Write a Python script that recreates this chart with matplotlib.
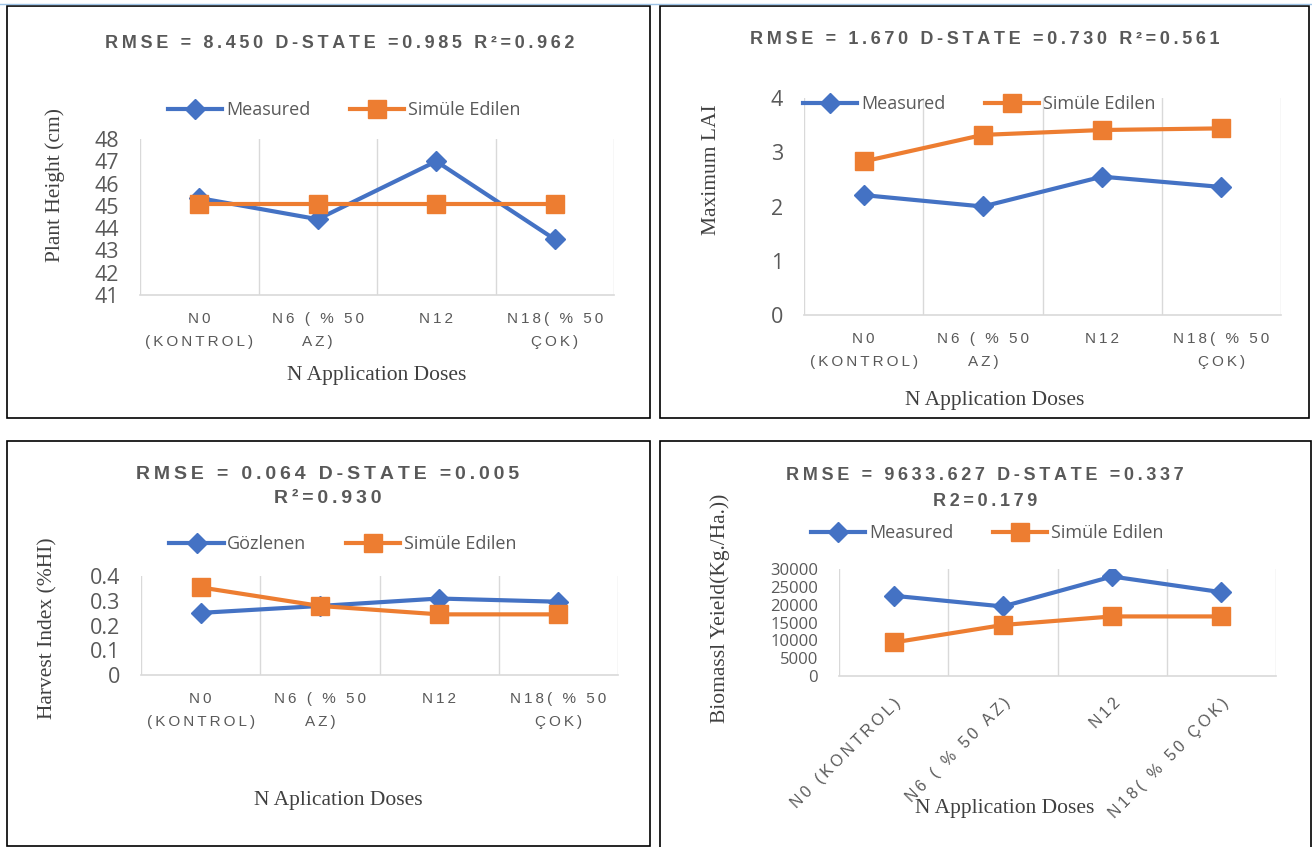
import matplotlib
matplotlib.use("Agg")
import matplotlib.pyplot as plt
from matplotlib.patches import Rectangle
from matplotlib.lines import Line2D
from matplotlib.ticker import FuncFormatter

# data
categories = ["N0\n(KONTROL)", "N6 ( % 50\nAZ)", "N12", "N18( % 50\nÇOK)"]
categories_rot = ["N0 (KONTROL)", "N6 ( % 50 AZ)", "N12", "N18( % 50 ÇOK)"]

height_measured = [45.35, 44.4, 47.0, 43.5]
height_simulated = [45.1, 45.1, 45.1, 45.1]

lai_measured = [2.21, 2.0, 2.55, 2.36]
lai_simulated = [2.83, 3.32, 3.41, 3.44]

hi_measured = [0.251, 0.279, 0.309, 0.296]
hi_simulated = [0.354, 0.279, 0.245, 0.245]

biomass_measured = [22500, 19500, 27900, 23500]
biomass_simulated = [9400, 14300, 16700, 16700]

BLUE = "#4472C4"
ORANGE = "#ED7D31"
GREY = "#595959"
GRID = "#D9D9D9"
W, H = 1312, 847
SANS = ["Liberation Sans", "DejaVu Sans"]
SERIF = ["Liberation Serif", "DejaVu Serif"]


def fx(x):
    return x / W


def fy(y):
    return 1 - y / H


def spaced(s, sep="\u2009"):
    # fake letter spacing like the Excel chart
    return "\n".join(sep.join(line) for line in s.split("\n"))


fig = plt.figure(figsize=(W / 100, H / 100), dpi=100)


def make_panel(box, x_labels, measured, simulated, names, ylim, yticks,
               title_lines, ylabel, xlabel, legend_xy, ylabel_xy, xlabel_xy,
               ytick_size=15.5, title_size=13, rotate=False):
    left, top, right, bottom = box
    ax = fig.add_axes([fx(left), fy(bottom), fx(right - left), (bottom - top) / H])
    x = list(range(len(x_labels)))
    ax.plot(x, measured, color=BLUE, lw=3, marker="D", ms=10, label=names[0], zorder=3)
    ax.plot(x, simulated, color=ORANGE, lw=3, marker="s", ms=12.5, label=names[1], zorder=3)
    ax.set_xlim(-0.5, len(x_labels) - 0.5)
    ax.set_ylim(*ylim)
    ax.set_yticks(yticks)
    ax.yaxis.set_major_formatter(FuncFormatter(lambda v, p: f"{v:g}"))
    for xv in [i - 0.5 for i in range(len(x_labels) + 1)]:
        ax.axvline(xv, color=GRID, lw=1, zorder=1)
    for side in ["left", "right", "top"]:
        ax.spines[side].set_visible(False)
    ax.spines["bottom"].set_color(GRID)
    ax.spines["bottom"].set_linewidth(1.2)
    ax.set_xticks(x)
    if rotate:
        ax.set_xticklabels([spaced(c) for c in x_labels], rotation=45, ha="right",
                           rotation_mode="anchor", family=SANS, fontsize=11.5, color=GREY)
        ax.tick_params(axis="x", length=0, pad=14)
    else:
        ax.set_xticklabels([spaced(c) for c in x_labels],
                           family=SANS, fontsize=11, color=GREY, linespacing=1.85)
        ax.tick_params(axis="x", length=0, pad=12)
    ax.tick_params(axis="y", length=0, pad=15, labelsize=ytick_size, labelcolor=GREY)
    for t in ax.get_yticklabels():
        t.set_family(["Open Sans", "DejaVu Sans"])

    for txt, (tx, ty) in title_lines:
        fig.text(fx(tx), fy(ty), spaced(txt), ha="center", va="center",
                 fontsize=title_size, fontweight="bold", color=GREY, family=SANS)

    fig.text(fx(ylabel_xy[0]), fy(ylabel_xy[1]), ylabel, rotation=90, ha="center",
             va="center", fontsize=15.5, color="#404040", family=SERIF)
    fig.text(fx(xlabel_xy[0]), fy(xlabel_xy[1]), xlabel, ha="center", va="center",
             fontsize=15.5, color="#404040", family=SERIF)

    leg = ax.legend(loc="center", bbox_to_anchor=(fx(legend_xy[0]), fy(legend_xy[1])),
                    bbox_transform=fig.transFigure, ncol=2, frameon=False,
                    handlelength=3, columnspacing=2.2, handletextpad=0.2,
                    prop={"family": ["Open Sans", "DejaVu Sans"], "size": 13})
    for t in leg.get_texts():
        t.set_color(GREY)
    return ax


make_panel((140, 139, 614, 295), categories, height_measured, height_simulated,
           ["Measured", "Simüle Edilen"], (41, 48), range(41, 49),
           [("RMSE = 8.450 D-STATE =0.985 R²=0.962", (340, 43))],
           "Plant Height (cm)", "N Application Doses",
           (344, 110), (55, 185), (377, 375))

make_panel((804, 98, 1281, 315), categories, lai_measured, lai_simulated,
           ["Measured", "Simüle Edilen"], (0, 4), range(0, 5),
           [("RMSE = 1.670 D-STATE =0.730 R²=0.561", (985, 40))],
           "Maximum LAI", "N Application Doses",
           (979, 104), (712, 170), (995, 401))

make_panel((141, 576, 618, 675), categories, hi_measured, hi_simulated,
           ["Gözlenen", "Simüle Edilen"], (0, 0.4), [0, 0.1, 0.2, 0.3, 0.4],
           [("RMSE = 0.064 D-STATE =0.005", (328, 474)), ("R²=0.930", (328, 498))],
           "Harvest Index (%HI)", "N Aplication Doses",
           (343, 544), (48, 628), (338, 800), title_size=14)

make_panel((839, 569, 1276, 676), categories_rot, biomass_measured, biomass_simulated,
           ["Measured", "Simüle Edilen"], (0, 30000), range(0, 30001, 5000),
           [("RMSE = 9633.627 D-STATE =0.337", (985, 475)), ("R2=0.179", (985, 501))],
           "Biomassl Yeield(Kg./Ha.))", "N Application Doses",
           (987, 533), (720, 608), (1005, 808), ytick_size=12, rotate=True)

# panel frames
for (l, t, r, b) in [(7, 6, 650, 418), (660, 6, 1309, 418),
                     (7, 441, 650, 846), (660, 441, 1311, 849)]:
    fig.patches.append(Rectangle((fx(l), fy(b)), fx(r - l), (b - t) / H,
                                 transform=fig.transFigure, fill=False,
                                 edgecolor="black", lw=1.2))
fig.lines.append(Line2D([0, 1], [fy(4), fy(4)], transform=fig.transFigure,
                        color="#9DC3E6", lw=1))

fig.savefig("out.png", dpi=100)
